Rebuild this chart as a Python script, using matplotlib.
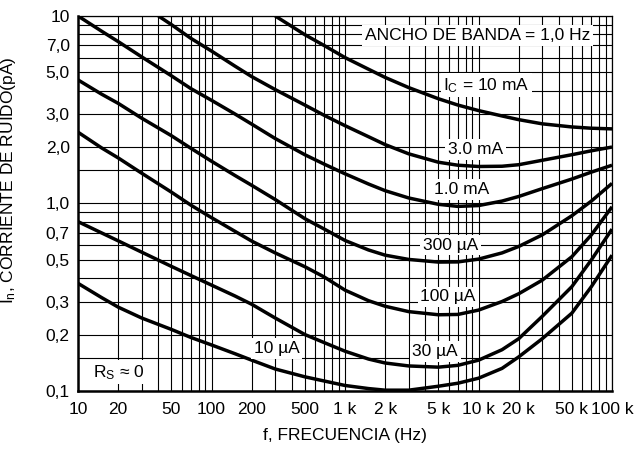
import matplotlib
matplotlib.use('Agg')                      # sem display
import matplotlib.pyplot as plt            # Para gerar o gráfico
from matplotlib.ticker import FixedLocator, LogLocator, NullFormatter

# Fonte parecida com Arial, e subscritos na mesma fonte
plt.rcParams['font.family'] = ['Liberation Sans', 'DejaVu Sans']
plt.rcParams['mathtext.fontset'] = 'custom'
plt.rcParams['mathtext.rm'] = 'Liberation Sans'
plt.rcParams['mathtext.it'] = 'Liberation Sans'
plt.rcParams['mathtext.bf'] = 'Liberation Sans:bold'

# Valores (frequência em Hz, corrente de ruído em pA)
freq_10ma = [300, 500, 700, 1e3, 1.5e3, 2e3, 3e3, 5e3, 7e3, 1e4, 1.5e4, 2e4, 3e4, 5e4, 7e4, 1e5]
in_10ma = [10, 7.95, 6.95, 6.0, 5.2, 4.7, 4.15, 3.62, 3.35, 3.13, 2.93, 2.8, 2.66, 2.56, 2.52, 2.5]

freq_3ma = [40, 50, 70, 100, 150, 200, 300, 500, 700, 1e3, 1.5e3, 2e3, 3e3, 5e3, 7e3,
            1e4, 1.5e4, 2e4, 3e4, 5e4, 7e4, 1e5]
in_3ma = [10, 9.0, 7.6, 6.5, 5.4, 4.75, 4.05, 3.35, 2.95, 2.6, 2.27, 2.06, 1.84, 1.66, 1.6,
          1.575, 1.58, 1.61, 1.7, 1.82, 1.91, 2.0]

# as outras curvas começam em 10 Hz
freq = [10, 15, 20, 30, 50, 70, 100, 150, 200, 300, 500, 700, 1e3, 1.5e3, 2e3, 3e3, 5e3, 7e3,
        1e4, 1.5e4, 2e4, 3e4, 5e4, 7e4, 1e5]
in_1ma = [10, 8.3, 7.3, 6.05, 4.8, 4.1, 3.55, 3.0, 2.65, 2.22, 1.82, 1.62, 1.44, 1.27, 1.17, 1.07,
          0.99, 0.965, 0.975, 1.03, 1.09, 1.2, 1.35, 1.47, 1.6]
in_300ua = [4.56, 3.83, 3.42, 2.85, 2.3, 1.97, 1.68, 1.41, 1.25, 1.05, 0.83, 0.73, 0.635, 0.565,
            0.53, 0.503, 0.487, 0.488, 0.505, 0.545, 0.59, 0.68, 0.86, 1.03, 1.28]
in_100ua = [2.4, 1.98, 1.75, 1.45, 1.15, 0.98, 0.84, 0.71, 0.63, 0.545, 0.46, 0.405, 0.345, 0.303,
            0.283, 0.265, 0.255, 0.256, 0.27, 0.3, 0.33, 0.39, 0.52, 0.68, 0.96]
in_30ua = [0.8, 0.697, 0.632, 0.55, 0.462, 0.413, 0.367, 0.321, 0.29, 0.245, 0.2, 0.181, 0.163,
           0.148, 0.141, 0.136, 0.134, 0.137, 0.146, 0.166, 0.19, 0.25, 0.36, 0.5, 0.73]
in_10ua = [0.375, 0.315, 0.28, 0.245, 0.213, 0.193, 0.176, 0.158, 0.146, 0.131, 0.119, 0.113,
           0.107, 0.103, 0.101, 0.101, 0.106, 0.11, 0.117, 0.132, 0.152, 0.19, 0.26, 0.36, 0.53]

# Ticks e rótulos dos eixos
x_ticks = [10, 20, 50, 100, 200, 500, 1e3, 2e3, 5e3, 1e4, 2e4, 5e4, 1e5]
x_rotulos = ['10', '20', '50', '100', '200', '500', '1 k', '2 k', '5 k', '10 k', '20 k', '50 k', '100 k']
y_ticks = [0.1, 0.2, 0.3, 0.5, 0.7, 1, 2, 3, 5, 7, 10]
y_rotulos = ['0,1', '0,2', '0,3', '0,5', '0,7', '1,0', '2,0', '3,0', '5,0', '7,0', '10']
y_grade_extra = [0.15, 0.4, 0.6, 0.8, 0.9, 1.5, 4, 6, 8, 9]

fig = plt.figure(figsize=(6.37, 4.53), dpi=100)
ax = fig.add_axes([0.1225, 0.1369, 0.8383, 0.8278])
ax.set_xscale('log')
ax.set_yscale('log')
ax.set_xlim(10, 1e5)
ax.set_ylim(0.1, 10)

# Curvas
estilo = dict(color='black', lw=2.5, solid_capstyle='butt', solid_joinstyle='round', zorder=3)
ax.plot(freq_10ma, in_10ma, **estilo)
ax.plot(freq_3ma, in_3ma, **estilo)
ax.plot(freq, in_1ma, **estilo)
ax.plot(freq, in_300ua, **estilo)
ax.plot(freq, in_100ua, **estilo)
ax.plot(freq, in_30ua, **estilo)
ax.plot(freq, in_10ua, **estilo)

# Grade: todas as linhas 1..9 por década
ax.set_xticks(x_ticks)
ax.set_xticklabels(x_rotulos)
ax.xaxis.set_minor_locator(LogLocator(base=10, subs=range(1, 10), numticks=20))
ax.xaxis.set_minor_formatter(NullFormatter())
ax.set_yticks(y_ticks)
ax.set_yticklabels(y_rotulos)
ax.yaxis.set_minor_locator(FixedLocator(y_grade_extra))
ax.yaxis.set_minor_formatter(NullFormatter())
ax.grid(which='both', color='black', lw=0.8, zorder=1)
ax.set_axisbelow(True)
ax.tick_params(which='both', length=0, labelsize=12.5)
ax.tick_params(axis='x', pad=8)
ax.tick_params(axis='y', pad=6)

for lado in ['left', 'bottom']:
    ax.spines[lado].set_linewidth(1.8)
for lado in ['top', 'right']:
    ax.spines[lado].set_linewidth(0.9)

# Títulos dos eixos
ax.set_xlabel('f, FRECUENCIA (Hz)', fontsize=12.5, labelpad=8)
ax.set_ylabel(r'I$_\mathrm{n}$, CORRIENTE DE RUIDO(pA)', fontsize=12.5)
ax.yaxis.set_label_coords(-0.112, 0.563)

# Rótulos das curvas com fundo branco
caixa = dict(facecolor='white', edgecolor='none', pad=2)
textos = [
    (0.748, 0.948, 'ANCHO DE BANDA = 1,0 Hz'),
    (0.765, 0.815, r'I$_\mathrm{C}$ = 10 mA'),
    (0.744, 0.644, '3.0 mA'),
    (0.718, 0.537, '1.0 mA'),
    (0.697, 0.389, '300 µA'),
    (0.693, 0.251, '100 µA'),
    (0.669, 0.105, '30 µA'),
    (0.372, 0.113, '10 µA'),
    (0.077, 0.050, r'R$_\mathrm{S}$ ≈ 0'),
]
for xa, ya, s in textos:
    ax.text(xa, ya, s, transform=ax.transAxes, ha='center', va='center',
            fontsize=12.5, bbox=caixa, zorder=4)

fig.savefig('out.png', dpi=100)
